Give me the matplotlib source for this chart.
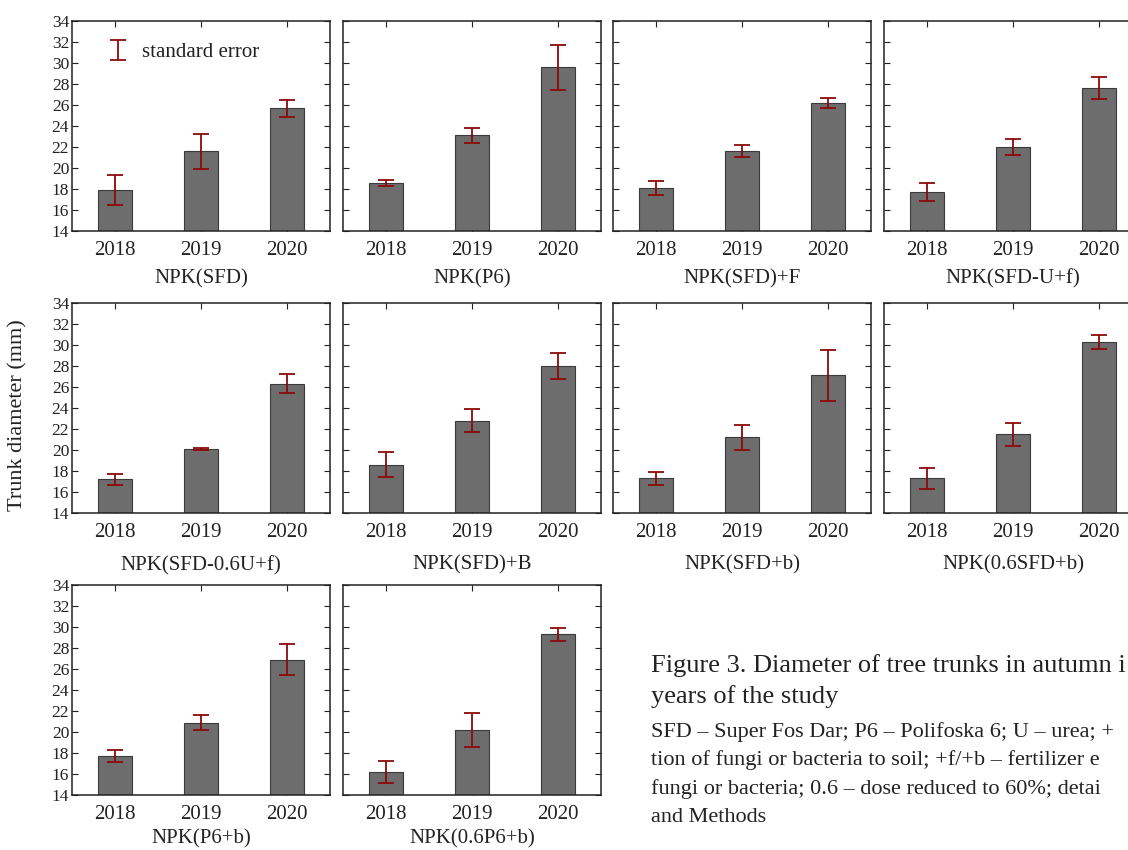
import matplotlib.pyplot as plt
import numpy as np

plt.rcParams['font.family'] = ['Liberation Serif', 'DejaVu Serif']
plt.rcParams['text.color'] = '#222222'
plt.rcParams['axes.labelcolor'] = '#222222'
plt.rcParams['xtick.color'] = '#222222'
plt.rcParams['ytick.color'] = '#222222'

# data
years = ['2018', '2019', '2020']
treatments = ['NPK(SFD)', 'NPK(P6)', 'NPK(SFD)+F', 'NPK(SFD-U+f)',
              'NPK(SFD-0.6U+f)', 'NPK(SFD)+B', 'NPK(SFD+b)', 'NPK(0.6SFD+b)',
              'NPK(P6+b)', 'NPK(0.6P6+b)']
means_2018 = [17.9, 18.6, 18.1, 17.7, 17.2, 18.6, 17.3, 17.3, 17.7, 16.2]
means_2019 = [21.6, 23.1, 21.6, 22.0, 20.1, 22.8, 21.2, 21.5, 20.9, 20.2]
means_2020 = [25.7, 29.6, 26.2, 27.6, 26.3, 28.0, 27.1, 30.3, 26.9, 29.3]
se_2018 = [1.45, 0.3, 0.65, 0.85, 0.55, 1.2, 0.65, 1.0, 0.55, 1.05]
se_2019 = [1.65, 0.75, 0.55, 0.8, 0.12, 1.1, 1.2, 1.1, 0.7, 1.65]
se_2020 = [0.8, 2.15, 0.45, 1.05, 0.9, 1.25, 2.4, 0.7, 1.45, 0.65]

# caption, as far as it is visible in the (cropped) original
caption = ['Figure 3. Diameter of tree trunks in autumn i', 'years of the study']
notes = ['SFD \u2013 Super Fos Dar; P6 \u2013 Polifoska 6; U \u2013 urea; +',
         'tion of fungi or bacteria to soil; +f/+b \u2013 fertilizer e',
         'fungi or bacteria; 0.6 \u2013 dose reduced to 60%; detai',
         'and Methods']

W, H = 1128, 850
fig = plt.figure(figsize=(W / 100, H / 100), dpi=100)

x = np.arange(len(years))
col_left = [72, 343, 613, 884]
row_top = [21, 303, 585]
label_pad = [7, 10, 4]
ax_w, ax_h = 258, 210

for i, name in enumerate(treatments):
    r, c = divmod(i, 4)
    ax = fig.add_axes([col_left[c] / W, 1 - (row_top[r] + ax_h) / H, ax_w / W, ax_h / H])
    vals = [means_2018[i], means_2019[i], means_2020[i]]
    errs = [se_2018[i], se_2019[i], se_2020[i]]
    ax.bar(x, vals, width=0.4, color='#6d6d6d', edgecolor='#3a3a3a', linewidth=0.8, zorder=2)
    ax.errorbar(x, vals, yerr=errs, fmt='none', ecolor='#8b0a0a', elinewidth=1.3,
                capsize=5.5, capthick=1.3, zorder=3, label='standard error')
    ax.set_xlim(-0.5, 2.5)
    ax.set_ylim(14, 34)
    ax.set_yticks(np.arange(14, 35, 2))
    ax.set_xticks(x)
    ax.set_xticklabels(years, fontsize=15)
    ax.set_xlabel(name, fontsize=15, labelpad=label_pad[r])
    ax.tick_params(direction='in', top=True, right=True, length=4, width=0.8)
    ax.tick_params(axis='x', pad=7)
    if c == 0:
        ax.tick_params(axis='y', labelsize=12.5, pad=2)
    else:
        ax.set_yticklabels([])
    for s in ax.spines.values():
        s.set_linewidth(1.1)
        s.set_color('#222222')
    if i == 0:
        ax.legend(loc='center left', bbox_to_anchor=(0.12, 0.85), frameon=False,
                  fontsize=15, handlelength=1.0, handletextpad=0.65,
                  borderpad=0.2, borderaxespad=0)

fig.text(18 / W, 1 - 415 / H, 'Trunk diameter (mm)', rotation=90, fontsize=16,
         ha='center', va='center')

for k, line in enumerate(caption):
    fig.text(651 / W, 1 - (666 + 31 * k) / H, line, fontsize=19, ha='left', va='center')
for k, line in enumerate(notes):
    fig.text(651 / W, 1 - (732 + 28.5 * k) / H, line, fontsize=16, ha='left', va='center')

fig.savefig('out.png', dpi=100)
